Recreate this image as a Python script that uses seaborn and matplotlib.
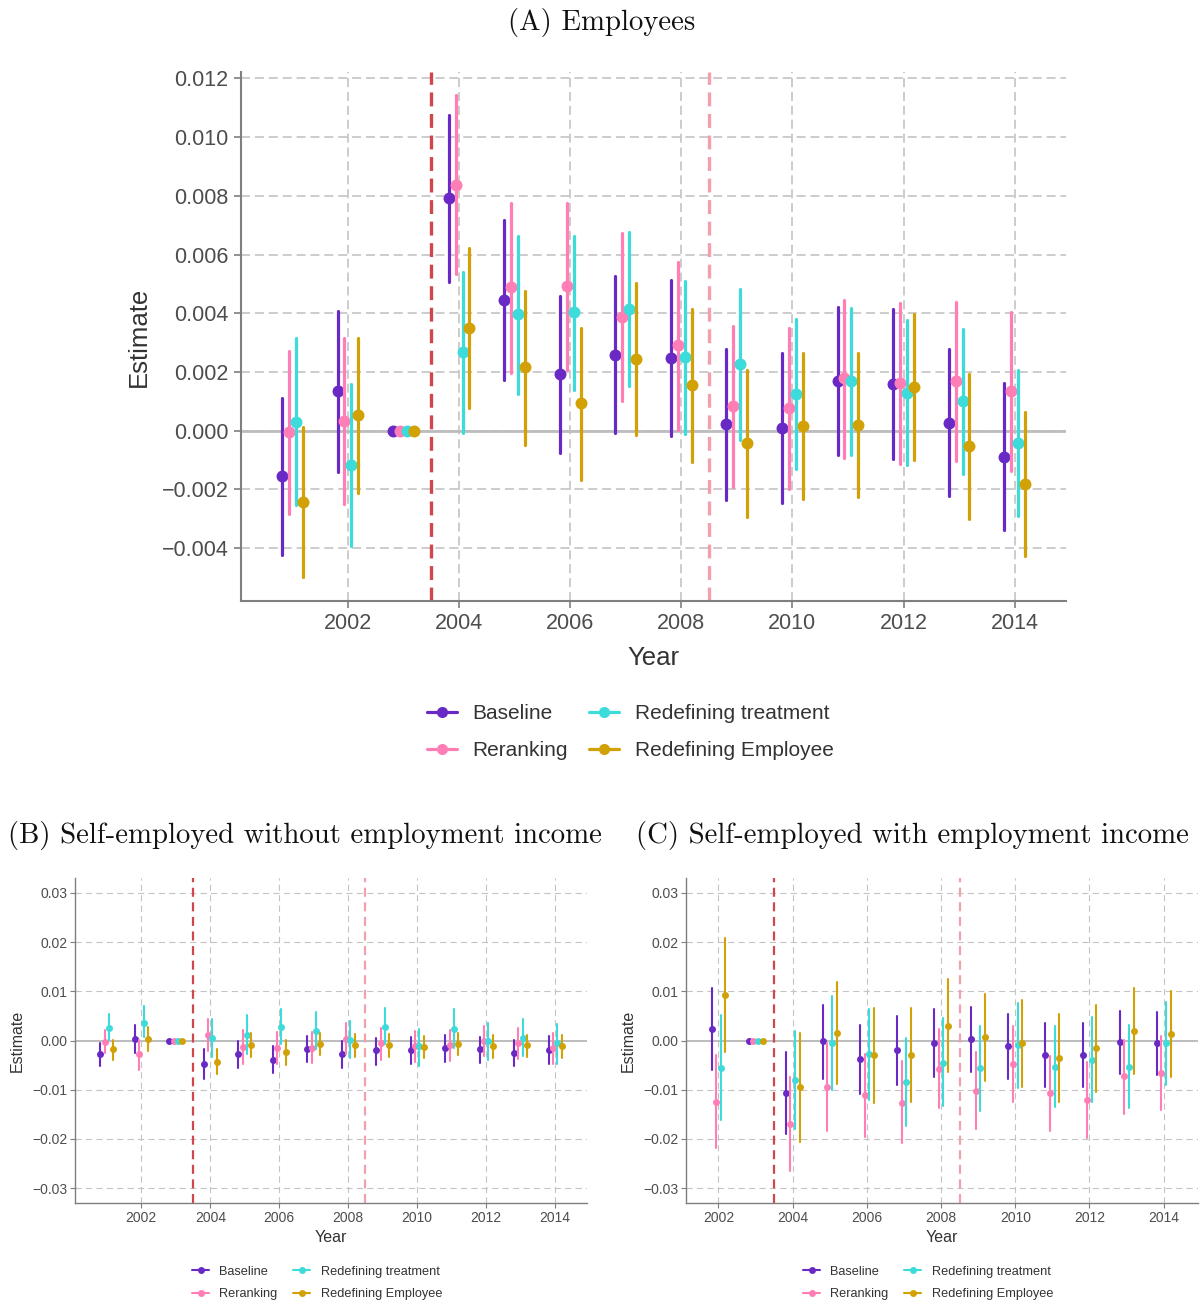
import matplotlib
matplotlib.use("Agg")
import matplotlib.pyplot as plt
from matplotlib import ticker
from matplotlib.lines import Line2D
import numpy as np
import pandas as pd
import seaborn as sns

# ---- data ----
series = ["Baseline", "Reranking", "Redefining treatment", "Redefining Employee"]
colors = ["#6929c4", "#ff7eb6", "#3ddbd9", "#d2a106"]

years_ab = [2001, 2002, 2003, 2004, 2005, 2006, 2007, 2008, 2009, 2010, 2011, 2012, 2013, 2014]
years_c = [2002, 2003, 2004, 2005, 2006, 2007, 2008, 2009, 2010, 2011, 2012, 2013, 2014]

# (A) Employees -- rows follow `series`
A_est = [
    [-0.00155, 0.00135, 0, 0.00792, 0.00445, 0.00193, 0.00259, 0.00249, 0.00022, 0.00008, 0.00168, 0.00160, 0.00028, -0.00088],
    [-0.00006, 0.00032, 0, 0.00838, 0.00489, 0.00492, 0.00389, 0.00292, 0.00084, 0.00076, 0.00181, 0.00162, 0.00168, 0.00135],
    [0.00031, -0.00117, 0, 0.00268, 0.00396, 0.00403, 0.00415, 0.00252, 0.00226, 0.00126, 0.00168, 0.00130, 0.00100, -0.00041],
    [-0.00242, 0.00052, 0, 0.00350, 0.00217, 0.00093, 0.00244, 0.00155, -0.00042, 0.00017, 0.00019, 0.00150, -0.00053, -0.00182],
]
A_lo = [
    [-0.00424, -0.00141, 0, 0.00505, 0.00172, -0.00076, -0.00008, -0.00017, -0.00235, -0.00247, -0.00084, -0.00095, -0.00223, -0.00339],
    [-0.00283, -0.00249, 0, 0.00533, 0.00197, 0.00208, 0.00102, 0.00004, -0.00191, -0.00197, -0.00093, -0.00113, -0.00102, -0.00136],
    [-0.00252, -0.00394, 0, -0.00008, 0.00126, 0.00138, 0.00154, -0.00012, -0.00032, -0.00131, -0.00083, -0.00117, -0.00148, -0.00290],
    [-0.00497, -0.00213, 0, 0.00076, -0.00047, -0.00167, -0.00014, -0.00105, -0.00294, -0.00233, -0.00227, -0.00100, -0.00300, -0.00427],
]
A_hi = [
    [0.00112, 0.00407, 0, 0.01077, 0.00717, 0.00458, 0.00526, 0.00513, 0.00278, 0.00264, 0.00421, 0.00415, 0.00280, 0.00164],
    [0.00271, 0.00315, 0, 0.01142, 0.00777, 0.00775, 0.00674, 0.00576, 0.00356, 0.00350, 0.00446, 0.00436, 0.00437, 0.00403],
    [0.00315, 0.00159, 0, 0.00542, 0.00663, 0.00665, 0.00676, 0.00509, 0.00484, 0.00380, 0.00419, 0.00378, 0.00345, 0.00206],
    [0.00012, 0.00315, 0, 0.00621, 0.00477, 0.00351, 0.00503, 0.00413, 0.00208, 0.00266, 0.00266, 0.00398, 0.00193, 0.00064],
]

# (B) Self-employed without employment income
B_est = [
    [-0.0027, 0.0004, 0, -0.0047, -0.0027, -0.0039, -0.0017, -0.0028, -0.0020, -0.0020, -0.0016, -0.0018, -0.0025, -0.0019],
    [-0.0003, -0.0027, 0, 0.0011, -0.0013, -0.0016, -0.0015, 0.0003, -0.0006, -0.0011, -0.0009, -0.0001, -0.0005, -0.0016],
    [0.0025, 0.0036, 0, 0.0005, 0.0011, 0.0028, 0.0020, 0.0002, 0.0028, -0.0012, 0.0024, -0.0001, 0.0005, -0.0006],
    [-0.0017, 0.0004, 0, -0.0043, -0.0009, -0.0024, -0.0007, -0.0009, -0.0009, -0.0013, -0.0007, -0.0011, -0.0010, -0.0012],
]
B_lo = [
    [-0.0051, -0.0025, 0, -0.0078, -0.0056, -0.0066, -0.0044, -0.0055, -0.0049, -0.0047, -0.0043, -0.0045, -0.0052, -0.0047],
    [-0.0025, -0.0059, 0, -0.0022, -0.0047, -0.0047, -0.0045, -0.0028, -0.0039, -0.0044, -0.0042, -0.0032, -0.0037, -0.0047],
    [0.0002, 0.0007, 0, -0.0033, -0.0028, -0.0008, -0.0018, -0.0035, -0.0008, -0.0051, -0.0015, -0.0039, -0.0032, -0.0047],
    [-0.0039, -0.0022, 0, -0.0069, -0.0034, -0.0049, -0.0030, -0.0034, -0.0034, -0.0036, -0.0030, -0.0035, -0.0034, -0.0036],
]
B_hi = [
    [-0.0005, 0.0032, 0, -0.0018, -0.0001, -0.0011, 0.0010, -0.0002, 0.0006, 0.0007, 0.0011, 0.0007, 0.0001, 0.0009],
    [0.0021, 0.0001, 0, 0.0044, 0.0022, 0.0017, 0.0017, 0.0036, 0.0026, 0.0020, 0.0021, 0.0029, 0.0026, 0.0016],
    [0.0053, 0.0071, 0, 0.0044, 0.0051, 0.0064, 0.0058, 0.0039, 0.0066, 0.0024, 0.0063, 0.0036, 0.0044, 0.0034],
    [0.0002, 0.0028, 0, -0.0017, 0.0016, 0.0002, 0.0016, 0.0014, 0.0014, 0.0010, 0.0016, 0.0011, 0.0012, 0.0011],
]

# (C) Self-employed with employment income
C_est = [
    [0.0024, 0, -0.0106, -0.0002, -0.0038, -0.0020, -0.0005, 0.0003, -0.0012, -0.0029, -0.0029, -0.0004, -0.0006],
    [-0.0124, 0, -0.0169, -0.0095, -0.0111, -0.0126, -0.0057, -0.0102, -0.0047, -0.0107, -0.0120, -0.0073, -0.0066],
    [-0.0055, 0, -0.0080, -0.0005, -0.0028, -0.0084, -0.0045, -0.0056, -0.0009, -0.0054, -0.0039, -0.0053, -0.0006],
    [0.0093, 0, -0.0095, 0.0016, -0.0030, -0.0029, 0.0030, 0.0007, -0.0006, -0.0036, -0.0016, 0.0020, 0.0014],
]
C_lo = [
    [-0.0059, 0, -0.0189, -0.0078, -0.0109, -0.0091, -0.0074, -0.0064, -0.0078, -0.0095, -0.0094, -0.0069, -0.0071],
    [-0.0218, 0, -0.0265, -0.0184, -0.0196, -0.0209, -0.0138, -0.0180, -0.0124, -0.0184, -0.0199, -0.0149, -0.0142],
    [-0.0162, 0, -0.0180, -0.0101, -0.0120, -0.0174, -0.0134, -0.0143, -0.0097, -0.0136, -0.0124, -0.0137, -0.0091],
    [-0.0023, 0, -0.0206, -0.0088, -0.0126, -0.0124, -0.0063, -0.0083, -0.0095, -0.0124, -0.0104, -0.0068, -0.0074],
]
C_hi = [
    [0.0107, 0, -0.0024, 0.0073, 0.0032, 0.0050, 0.0063, 0.0069, 0.0053, 0.0035, 0.0036, 0.0060, 0.0058],
    [-0.0030, 0, -0.0074, -0.0005, -0.0027, -0.0042, 0.0024, -0.0024, 0.0029, -0.0032, -0.0043, 0.0001, 0.0010],
    [0.0051, 0, 0.0019, 0.0090, 0.0063, 0.0005, 0.0045, 0.0030, 0.0076, 0.0029, 0.0047, 0.0032, 0.0078],
    [0.0208, 0, 0.0016, 0.0119, 0.0066, 0.0066, 0.0124, 0.0095, 0.0082, 0.0053, 0.0072, 0.0107, 0.0100],
]

# ---- style ----
sns.set_theme(style="white")
plt.rcParams["font.family"] = ["Liberation Sans", "DejaVu Sans"]
plt.rcParams["lines.scale_dashes"] = False
plt.rcParams["axes.unicode_minus"] = True
TXT = "#4d4d4d"
AXC = "#7f7f7f"
GRID = "#c4c4c4"


def long_frame(years, est, lo, hi):
    # three rows per year/series: median = estimate, min/max = interval
    rows = []
    for s, e_row, l_row, h_row in zip(series, est, lo, hi):
        for y, e, l, h in zip(years, e_row, l_row, h_row):
            for v in (l, e, h):
                rows.append({"year": y, "series": s, "value": v})
    return pd.DataFrame(rows)


def panel(ax, years, est, lo, hi, xlim, ylim, yticks, fmt, big):
    df = long_frame(years, est, lo, hi)
    ms = 8.6 if big else 5.0
    elw = 2.3 if big else 1.5
    glw = 1.2 if big else 0.8
    gdash = (0, (6.5, 3.5)) if big else (0, (4.5, 3))
    ax.set_axisbelow(True)
    ax.set_xticks(range(2002, 2015, 2))
    ax.set_yticks(yticks)
    ax.grid(True, color=GRID, linestyle=gdash, linewidth=glw)
    ax.axhline(0, color="#bdbdbd", lw=2.0 if big else 1.4, zorder=1)
    vdash = (0, (10, 5.5)) if big else (0, (6.5, 4))
    vlw = 2.4 if big else 1.6
    ax.axvline(2003.5, color="#d0464d", lw=vlw, linestyle=vdash, zorder=1.5)
    ax.axvline(2008.5, color="#f3a0ad", lw=vlw, linestyle=vdash, zorder=1.5)
    sns.pointplot(data=df, x="year", y="value", hue="series", hue_order=series,
                  palette=colors, estimator="median",
                  errorbar=lambda v: (v.min(), v.max()),
                  native_scale=True, dodge=0.375, linestyles="none",
                  markers="o", markersize=ms, markeredgewidth=0,
                  err_kws={"linewidth": elw}, legend=False, ax=ax)
    ax.set_xlim(*xlim)
    ax.set_ylim(*ylim)
    ax.yaxis.set_major_formatter(ticker.FuncFormatter(
        lambda v, p: (fmt % v).replace("-", "\u2212") if abs(v) > 1e-12 else fmt % 0))
    for side in ("top", "right"):
        ax.spines[side].set_visible(False)
    for side in ("left", "bottom"):
        ax.spines[side].set_color(AXC)
        ax.spines[side].set_linewidth(1.5 if big else 1.0)
    ax.tick_params(axis="both", which="major", length=5 if big else 3.5,
                   width=1.2 if big else 0.8, color=AXC,
                   labelsize=15.5 if big else 10, labelcolor=TXT,
                   bottom=True, left=True, pad=4 if big else 2)
    ax.set_xlabel("Year", fontsize=18.5 if big else 11.5, color="#333333",
                  labelpad=8 if big else 4)
    ax.set_ylabel("Estimate", fontsize=18.5 if big else 11.5, color="#333333",
                  labelpad=8 if big else 5)


fig = plt.figure(figsize=(12.03, 13.05), dpi=100)

axA = fig.add_axes([241 / 1203, 1 - 601 / 1305, 825 / 1203, 529 / 1305])
panel(axA, years_ab, A_est, A_lo, A_hi, (2000.075, 2014.925), (-0.0058, 0.01222),
      np.arange(-0.004, 0.0121, 0.002), "%.3f", True)

axB = fig.add_axes([75 / 1203, 1 - 1203 / 1305, 512 / 1203, 325 / 1305])
panel(axB, years_ab, B_est, B_lo, B_hi, (2000.075, 2014.925), (-0.033, 0.033),
      np.arange(-0.03, 0.031, 0.01), "%.2f", False)

axC = fig.add_axes([686 / 1203, 1 - 1203 / 1305, 512 / 1203, 325 / 1305])
panel(axC, years_c, C_est, C_lo, C_hi, (2001.125, 2014.925), (-0.033, 0.033),
      np.arange(-0.03, 0.031, 0.01), "%.2f", False)

# titles
title_kw = dict(family="cmr10", ha="center", va="center", color="#111111")
fig.text(602 / 1203, 1 - 22 / 1305, "(A) Employees", fontsize=20.7, **title_kw)
fig.text(305 / 1203, 1 - 835 / 1305, "(B) Self-employed without employment income", fontsize=20.7, **title_kw)
fig.text(912 / 1203, 1 - 835 / 1305, "(C) Self-employed with employment income", fontsize=20.7, **title_kw)


# legends
def add_legend(cx, cy, big):
    handles = [Line2D([0], [0], color=c, lw=2.3 if big else 1.5, marker="o",
                      markersize=8 if big else 5, markeredgewidth=0) for c in colors]
    fig.legend(handles, series, loc="center", bbox_to_anchor=(cx / 1203, 1 - cy / 1305),
               ncol=2, frameon=False, fontsize=15 if big else 9.2,
               labelcolor="#333333", handlelength=1.45 if big else 1.35,
               handletextpad=0.75 if big else 0.8,
               columnspacing=1.0 if big else 1.2, labelspacing=0.85 if big else 0.85)


add_legend(630, 732, True)
add_legend(317, 1283, False)
add_legend(928, 1283, False)

fig.savefig("out.png", dpi=100)
